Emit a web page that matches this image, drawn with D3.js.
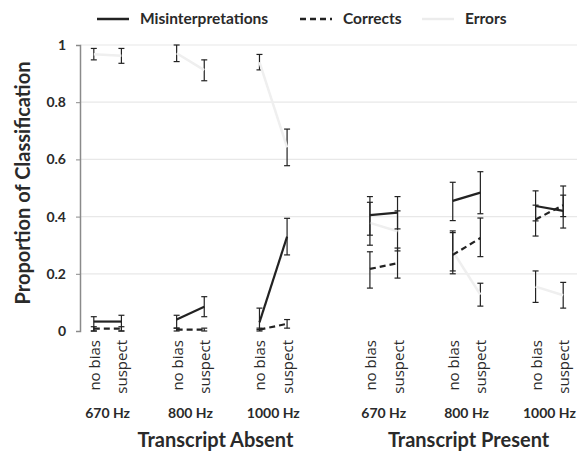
<!doctype html>
<html>
<head>
<script src="https://d3js.org/d3.v7.min.js"></script>
<style>
  body { margin: 0; background: #fff; }
  text { font-family: Lato, "Open Sans", sans-serif; fill: #2a2a2a; }
</style>
</head>
<body>
<div id="chart"></div>
<script>
// categories
var groups = ["Transcript Absent", "Transcript Present"];
var freqs = ["670 Hz", "800 Hz", "1000 Hz"];
var biases = ["no bias", "suspect"];
var yTicks = [0, 0.2, 0.4, 0.6, 0.8, 1];

// values, ordered group > frequency > bias
var misint   = [0.033, 0.033, 0.040, 0.085, 0.030, 0.330, 0.405, 0.414, 0.455, 0.484, 0.437, 0.420];
var misintLo = [0.000, 0.000, 0.010, 0.050, 0.005, 0.266, 0.335, 0.357, 0.386, 0.410, 0.385, 0.360];
var misintHi = [0.050, 0.055, 0.055, 0.120, 0.080, 0.394, 0.470, 0.470, 0.520, 0.557, 0.490, 0.475];

var corrects   = [0.008, 0.008, 0.005, 0.005, 0.005, 0.025, 0.217, 0.237, 0.266, 0.325, 0.390, 0.440];
var correctsLo = [0.000, 0.000, 0.000, 0.000, 0.000, 0.010, 0.150, 0.185, 0.200, 0.260, 0.332, 0.400];
var correctsHi = [0.015, 0.015, 0.010, 0.010, 0.010, 0.040, 0.277, 0.290, 0.344, 0.395, 0.440, 0.507];

var errors   = [0.968, 0.962, 0.971, 0.912, 0.940, 0.642, 0.378, 0.349, 0.279, 0.127, 0.155, 0.125];
var errorsLo = [0.948, 0.936, 0.942, 0.875, 0.913, 0.578, 0.300, 0.280, 0.210, 0.087, 0.100, 0.080];
var errorsHi = [0.988, 0.988, 1.000, 0.948, 0.967, 0.706, 0.450, 0.420, 0.350, 0.167, 0.210, 0.170];

var W = 579, H = 451;
var svg = d3.select("#chart").append("svg")
    .attr("width", W).attr("height", H);

// category slots (with empty slots between frequencies and groups)
var cells = [];
var slots = [];
groups.forEach(function(g, gi) {
  if (gi > 0) slots.push("gap-g" + gi);
  freqs.forEach(function(f, fi) {
    biases.forEach(function(b) {
      var key = g + "|" + f + "|" + b;
      slots.push(key);
      cells.push({group: g, freq: f, bias: b, key: key});
    });
    if (!(gi === groups.length - 1 && fi === freqs.length - 1)) slots.push("gap-" + gi + "-" + fi);
  });
});

var x = d3.scaleBand().domain(slots).range([80, 577]);
var xc = function(key) { return x(key) + x.bandwidth() / 2; };
var y = d3.scaleLinear().domain([0, 1]).range([331, 45]);

// gridlines
svg.append("g").selectAll("line")
  .data(yTicks.filter(function(d) { return d > 0; }))
  .enter().append("line")
    .attr("x1", 80).attr("x2", 577)
    .attr("y1", function(d) { return y(d); })
    .attr("y2", function(d) { return y(d); })
    .attr("stroke", "#e8e8e8").attr("stroke-width", 1.2);

// y axis
var yAxis = svg.append("g")
    .attr("transform", "translate(80,0)")
    .call(d3.axisLeft(y).tickValues(yTicks).tickSize(4).tickPadding(10)
      .tickFormat(function(d) { return (d === 0 || d === 1) ? d : d.toFixed(1); }));
yAxis.select(".domain").attr("stroke", "#8a8a8a").attr("stroke-width", 1.5);
yAxis.selectAll(".tick line").attr("stroke", "#8a8a8a");
yAxis.selectAll("text")
    .style("font-family", "Lato, sans-serif")
    .style("font-size", "14px").style("font-weight", "bold")
    .attr("fill", "#2a2a2a");

svg.append("text")
    .attr("transform", "translate(30,183) rotate(-90)")
    .attr("text-anchor", "middle")
    .style("font-size", "20px").style("font-weight", "bold")
    .text("Proportion of Classification");

// series
var series = [
  {name: "Errors", v: errors, lo: errorsLo, hi: errorsHi, color: "#efefef", dash: null, width: 2.5},
  {name: "Corrects", v: corrects, lo: correctsLo, hi: correctsHi, color: "#222", dash: "6,4", width: 2.2},
  {name: "Misinterpretations", v: misint, lo: misintLo, hi: misintHi, color: "#222", dash: null, width: 2.2}
];

var line = d3.line()
    .x(function(d) { return xc(d.key); })
    .y(function(d) { return y(d.v); });

series.forEach(function(s) {
  var pts = cells.map(function(c, i) {
    return {key: c.key, group: c.group, freq: c.freq, v: s.v[i], lo: s.lo[i], hi: s.hi[i]};
  });
  var segs = d3.groups(pts, function(d) { return d.group + d.freq; }).map(function(d) { return d[1]; });
  var g = svg.append("g");

  // error bars
  var eb = g.selectAll(".eb").data(pts).enter().append("g").attr("class", "eb");
  eb.append("line")
      .attr("x1", function(d) { return xc(d.key); })
      .attr("x2", function(d) { return xc(d.key); })
      .attr("y1", function(d) { return y(d.lo); })
      .attr("y2", function(d) { return y(d.hi); })
      .attr("stroke", "#222").attr("stroke-width", 1.2);
  ["lo", "hi"].forEach(function(k) {
    eb.append("line")
        .attr("x1", function(d) { return xc(d.key) - 3; })
        .attr("x2", function(d) { return xc(d.key) + 3; })
        .attr("y1", function(d) { return y(d[k]); })
        .attr("y2", function(d) { return y(d[k]); })
        .attr("stroke", "#222").attr("stroke-width", 1.2);
  });

  g.selectAll(".seg").data(segs).enter().append("path")
      .attr("d", line)
      .attr("fill", "none")
      .attr("stroke", s.color)
      .attr("stroke-width", s.width)
      .attr("stroke-dasharray", s.dash);
});

// category labels
svg.append("g").selectAll("text")
  .data(cells).enter().append("text")
    .attr("transform", function(d) { return "translate(" + (xc(d.key) + 6) + ",340) rotate(-90)"; })
    .attr("text-anchor", "end")
    .style("font-family", "'Open Sans', sans-serif")
    .style("font-size", "15px")
    .text(function(d) { return d.bias; });

// frequency labels
var freqCells = cells.filter(function(d) { return d.bias === biases[0]; });
svg.append("g").selectAll("text")
  .data(freqCells).enter().append("text")
    .attr("x", function(d) { return xc(d.key) + x.bandwidth() / 2; })
    .attr("y", 418)
    .attr("text-anchor", "middle")
    .style("font-size", "14px").style("font-weight", "bold")
    .text(function(d) { return d.freq; });

// group labels (offset from the middle of each group, as in the original)
var groupShift = [25, 2];
svg.append("g").selectAll("text")
  .data(groups).enter().append("text")
    .attr("x", function(g, i) {
      var ks = cells.filter(function(c) { return c.group === g; }).map(function(c) { return xc(c.key); });
      return (d3.min(ks) + d3.max(ks)) / 2 + groupShift[i];
    })
    .attr("y", 447)
    .attr("text-anchor", "middle")
    .style("font-size", "20px").style("font-weight", "bold")
    .text(function(g) { return g; });

// legend
var legend = [
  {name: "Misinterpretations", x: 97, color: "#222", dash: null},
  {name: "Corrects", x: 300, color: "#222", dash: "6,4"},
  {name: "Errors", x: 422, color: "#ececec", dash: null}
];
var lg = svg.append("g").selectAll("g").data(legend).enter().append("g");
lg.append("line")
    .attr("x1", function(d) { return d.x; })
    .attr("x2", function(d) { return d.x + 32; })
    .attr("y1", 19).attr("y2", 19)
    .attr("stroke", function(d) { return d.color; })
    .attr("stroke-width", 2.5)
    .attr("stroke-dasharray", function(d) { return d.dash; });
lg.append("text")
    .attr("x", function(d) { return d.x + 43; })
    .attr("y", 24)
    .style("font-size", "15.5px").style("font-weight", "bold")
    .text(function(d) { return d.name; });
</script>
</body>
</html>
